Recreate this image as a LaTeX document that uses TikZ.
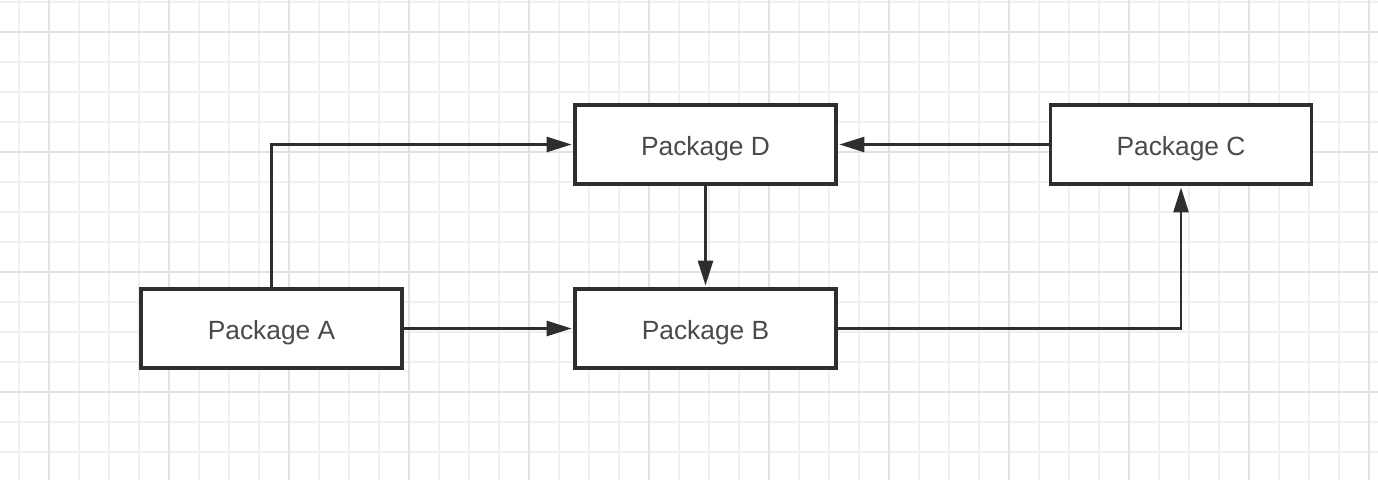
\documentclass[tikz,border=0pt]{standalone}
\usepackage{fontspec}
\setmainfont{Liberation Sans}
\usetikzlibrary{arrows.meta}
\definecolor{PKInk}{HTML}{2E2E2E}
\definecolor{PKText}{HTML}{4A4A4A}
\definecolor{PKGrid}{HTML}{F0F0F0}
\definecolor{PKGridMajor}{HTML}{E2E2E2}

\begin{document}
\begin{tikzpicture}[x=0.02cm,y=-0.02cm,
  pkg/.style={draw=PKInk,line width=1.9pt,fill=white,minimum width=5.22cm,
    minimum height=1.58cm,inner sep=0pt,text height=12pt,text depth=0pt,
    text=PKText,font=\fontsize{15}{18}\selectfont},
  link/.style={draw=PKInk,line width=1.5pt,shorten >=1pt,
    -{Triangle[length=0.5cm,width=0.3cm]}}]
\path[use as bounding box] (0,0) rectangle (1378,480);
\fill[white] (0,0) rectangle (1378,480);
% grid paper
\foreach \gx in {19,49,...,1378} \draw[PKGrid,line width=0.8pt] (\gx,0) -- (\gx,480);
\foreach \gy in {2,32,...,480} \draw[PKGrid,line width=0.8pt] (0,\gy) -- (1378,\gy);
\foreach \gx in {49,169,...,1378} \draw[PKGridMajor,line width=0.8pt] (\gx,0) -- (\gx,480);
\foreach \gy in {32,152,...,480} \draw[PKGridMajor,line width=0.8pt] (0,\gy) -- (1378,\gy);
% packages
\node[pkg] (pkgA) at (271.5,328.5) {Package A};
\node[pkg] (pkgB) at (705.5,328.5) {Package B};
\node[pkg] (pkgD) at (705.5,144.5) {Package D};
\node[pkg] (pkgC) at (1181,144.5) {Package C};
% dependencies
\draw[link] (pkgA.north) |- (pkgD.west);
\draw[link] (pkgA) -- (pkgB);
\draw[link] (pkgD) -- (pkgB);
\draw[link] (pkgC) -- (pkgD);
\draw[link] (pkgB.east) -| (pkgC.south);
\end{tikzpicture}
\end{document}
